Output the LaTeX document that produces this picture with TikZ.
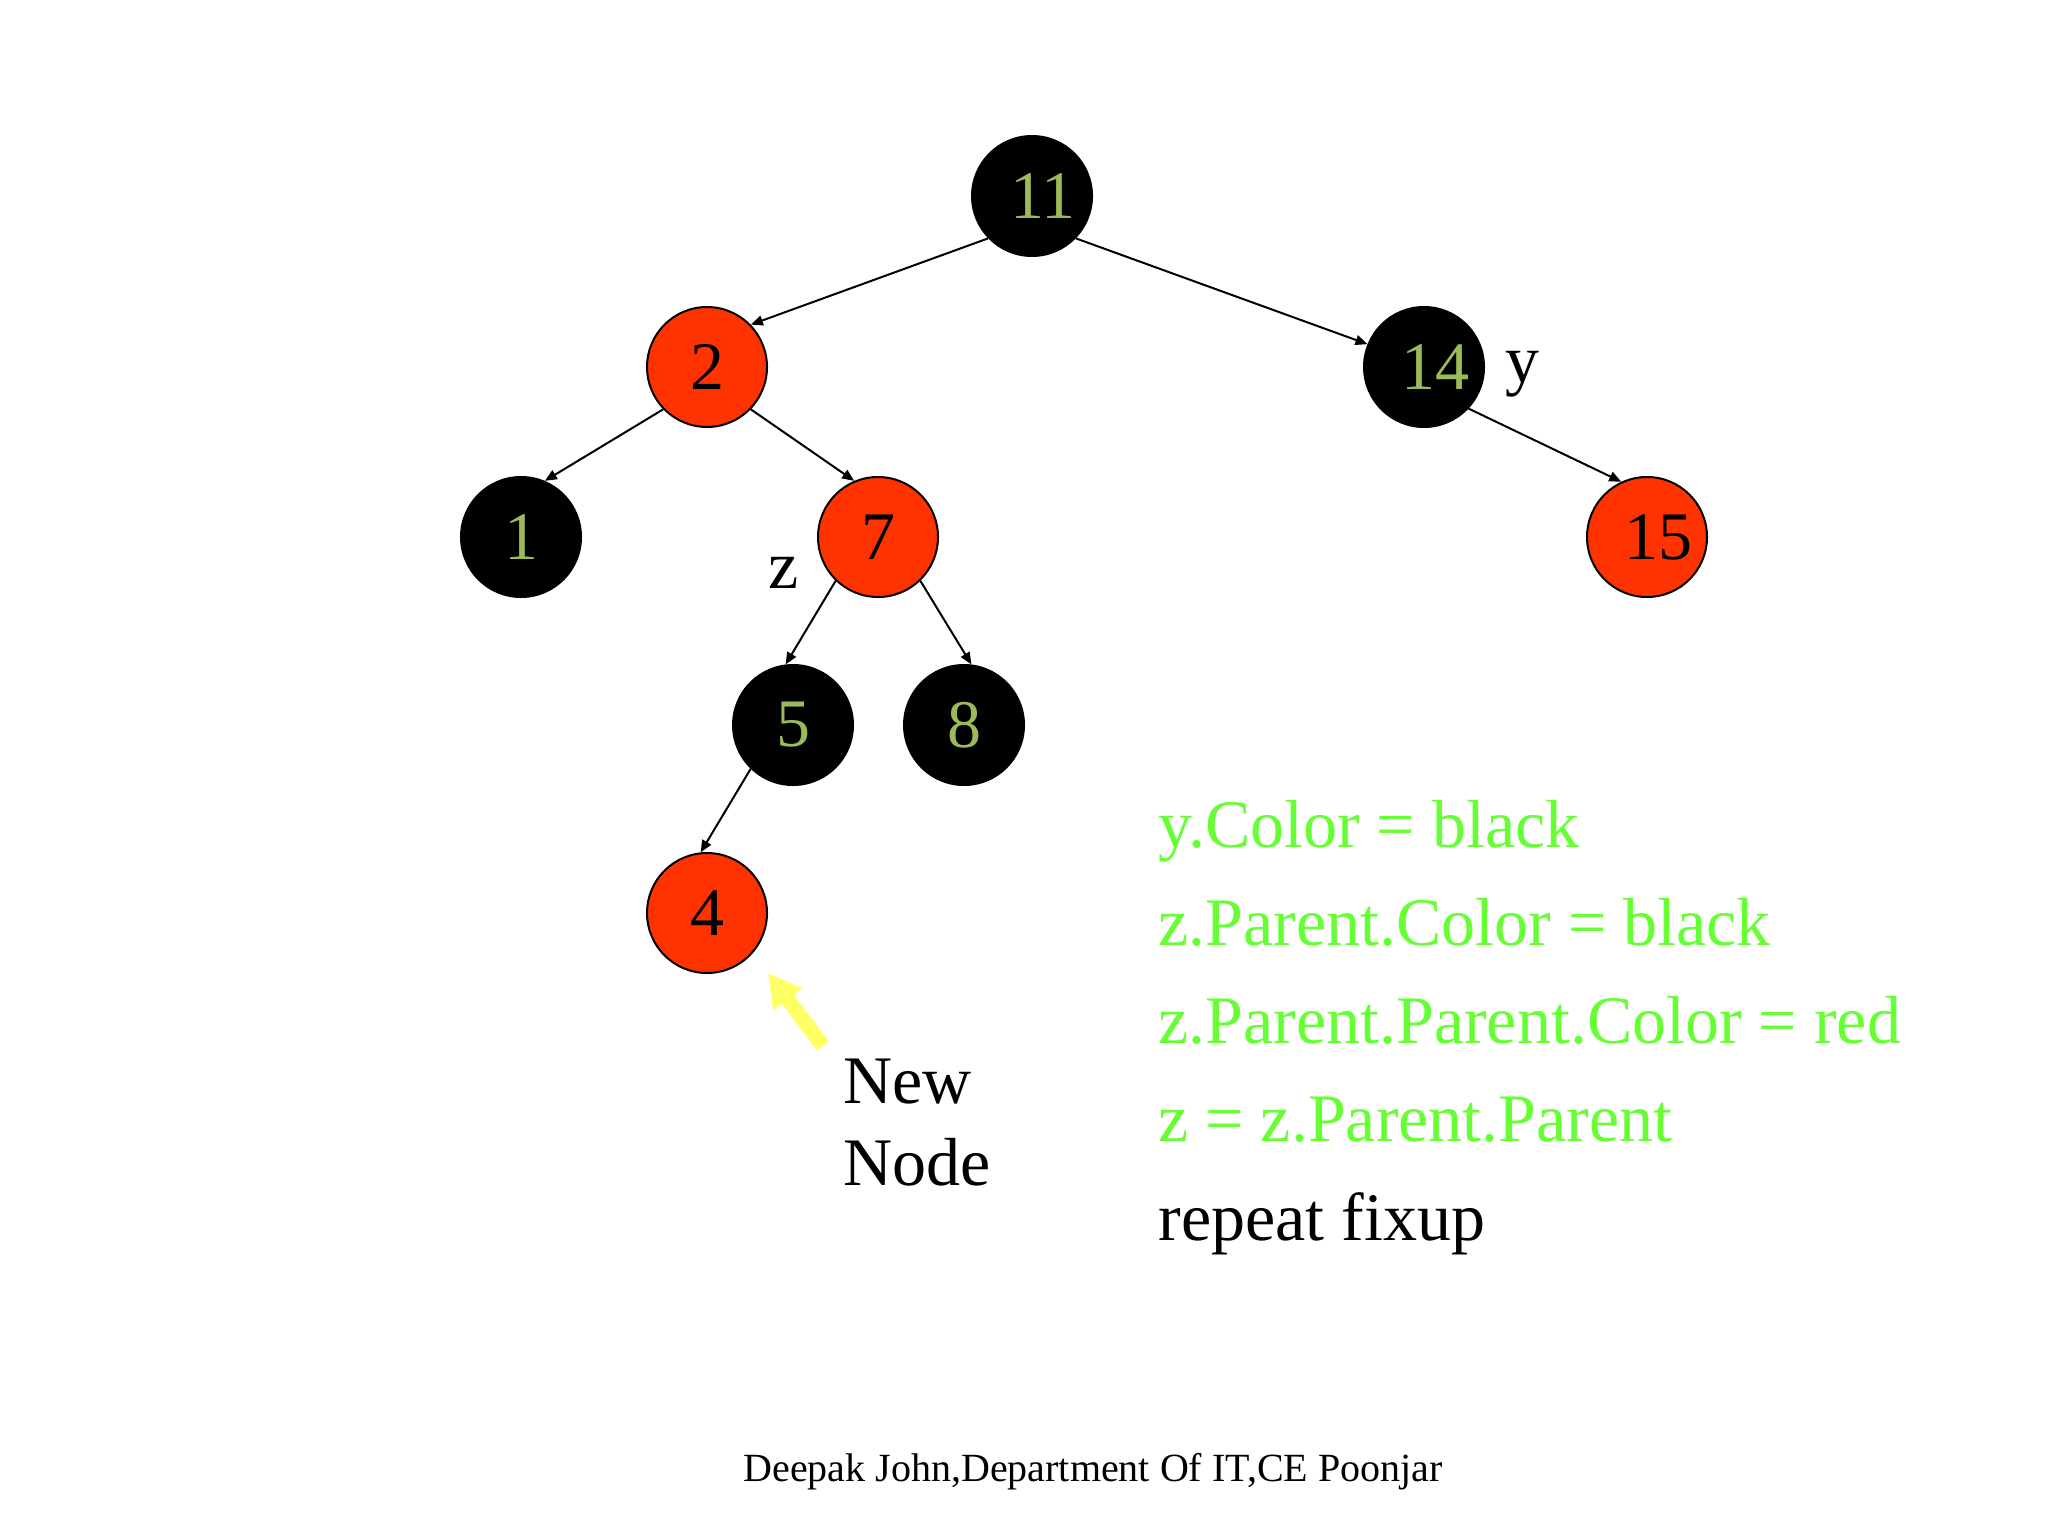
\documentclass[tikz,border=0pt]{standalone}
\usepackage{fontspec}
\setmainfont{Liberation Serif}
\usetikzlibrary{arrows.meta}
\definecolor{nodered}{HTML}{FF3300}
\definecolor{keyolive}{HTML}{9BBB59}
\definecolor{codegreen}{HTML}{66FF33}
\definecolor{hiyellow}{HTML}{FFFF66}
\newcommand{\padnum}[1]{\hspace*{11pt}#1}
\tikzset{
  rbnode/.style={circle, minimum size=60pt, inner sep=0pt, line width=1pt, font=\fontsize{34}{40}\selectfont},
  rednode/.style={rbnode, draw=black, fill=nodered, text=black},
  blacknode/.style={rbnode, draw=black, fill=black, text=keyolive},
  treeedge/.style={-{Triangle[length=6pt,width=5pt]}, line width=1pt},
  bigtext/.style={anchor=base west, inner sep=0pt, font=\fontsize{34}{41}\selectfont},
  pointer/.style={-{Triangle[length=16.5pt,width=17pt]}, line width=7.5pt, hiyellow},
}
\begin{document}
\begin{tikzpicture}[x=0.5pt,y=-0.5pt]
    \fill[white] (0,0) rectangle (2048,1536);
    \useasboundingbox (0,0) rectangle (2048,1536);

    % the tree
    \node[blacknode] (n11) at (1032,196) {\padnum{11}};
    \node[rednode]   (n2)  at (707,367)  {2};
    \node[blacknode] (n14) at (1424,367) {\padnum{14}};
    \node[blacknode] (n1)  at (521,537)  {1};
    \node[rednode]   (n7)  at (878,537)  {7};
    \node[rednode]   (n15) at (1647,537) {\padnum{15}};
    \node[blacknode] (n5)  at (793,725)  {5};
    \node[blacknode] (n8)  at (964,725)  {8};
    \node[rednode]   (n4)  at (707,913)  {4};

    \draw[treeedge] (n11.224) -- (n2.44);
    \draw[treeedge] (n11.-44) -- (n14.158);
    \draw[treeedge] (n2.224) -- (n1.67);
    \draw[treeedge] (n2.-44) -- (n7.113);
    \draw[treeedge] (n14.-43) -- (n15.115);
    \draw[treeedge] (n7.226) -- (n5.97);
    \draw[treeedge] (n7.-46) -- (n8.83);
    \draw[treeedge] (n5.226) -- (n4.96);

    \node[bigtext] (zlbl) at (768,588) {z};
    \node[bigtext] (ylbl) at (1505,382) {y};

    % new node pointer
    \coordinate (ptail) at (823,1046);
    \coordinate (ptip) at (768,973);
    \draw[pointer] (ptail) -- (ptip);
    \node[bigtext] (newlbl) at (843,1103) {New};
    \node[bigtext] (nodelbl) at (843,1185) {Node};

    % fixup steps
    \foreach \y/\step in {847/y.Color = black, 945/z.Parent.Color = black,
                          1043/z.Parent.Parent.Color = red, 1141/z = z.Parent.Parent}
        \node[bigtext, text=codegreen] at (1158,\y) {\step};
    \node[bigtext] (repeatlbl) at (1158,1240) {repeat fixup};

    \node[anchor=base, inner sep=0pt, font=\fontsize{20}{24}\selectfont] (credit) at (1093,1481) {Deepak John,Department Of IT,CE Poonjar};
\end{tikzpicture}
\end{document}
